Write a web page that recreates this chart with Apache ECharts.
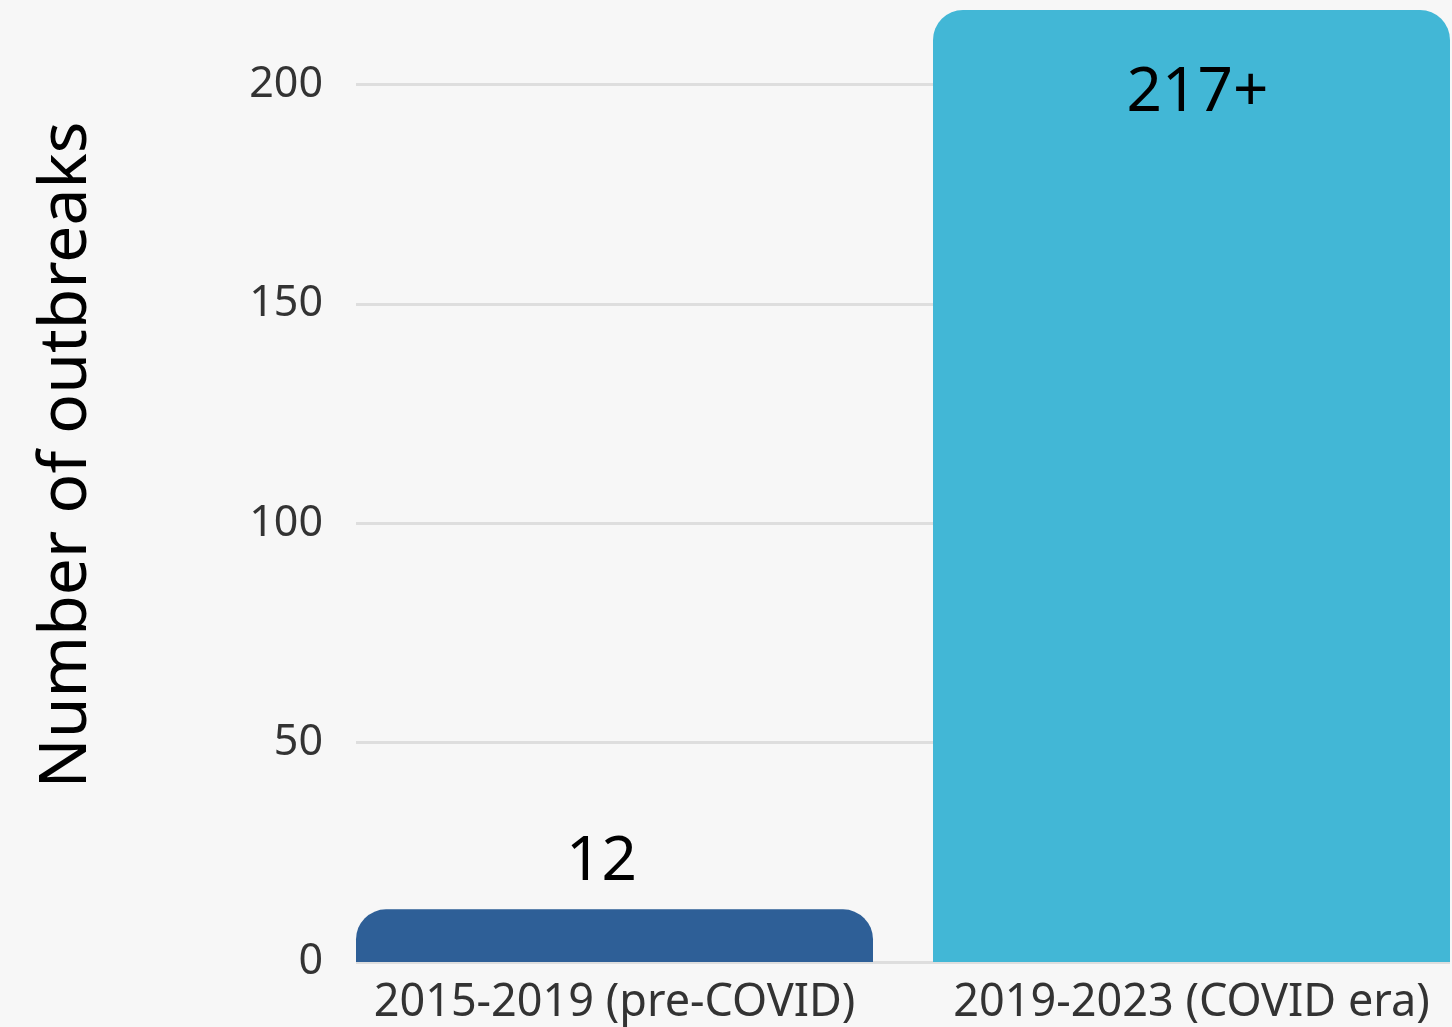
<!DOCTYPE html>
<html>
<head>
<meta charset="utf-8">
<script src="https://cdn.jsdelivr.net/npm/echarts@6/dist/echarts.min.js"></script>
<style>
  html, body { margin: 0; padding: 0; background: #f7f7f7; }
  #chart { width: 1452px; height: 1027px; }
</style>
</head>
<body>
<div id="chart"></div>
<script>
const categories = ["2015-2019 (pre-COVID)", "2019-2023 (COVID era)"];
const outbreaks = [12, 217];
const valueLabels = ["12", "217+"];
const barColors = ["#2e5f97", "#42b7d6"];
const yTicks = [0, 50, 100, 150, 200];

const font = "Noto Sans";
const chart = echarts.init(document.getElementById("chart"));

const option = {
  backgroundColor: "#f7f7f7",
  textStyle: { fontFamily: font },
  grid: [
    // bars (category band runs past the right edge)
    { left: 326, width: 1154, top: 10, bottom: 65, outerBoundsMode: "none" },
    // y axis + gridlines
    { left: 356, right: 2, top: 10, bottom: 65, outerBoundsMode: "none" },
  ],
  xAxis: [
    {
      type: "category",
      gridIndex: 0,
      data: categories,
      axisLine: { show: false },
      axisTick: { show: false },
      axisLabel: { interval: 0, fontSize: 45, color: "#333", margin: 19, fontFamily: font },
    },
    { type: "category", gridIndex: 1, data: categories, show: false },
  ],
  yAxis: [
    { type: "value", gridIndex: 0, min: 0, max: 217, show: false },
    {
      type: "value",
      gridIndex: 1,
      min: 0,
      max: 217,
      interval: 50,
      name: "Number of outbreaks",
      nameLocation: "middle",
      nameGap: 256,
      nameTextStyle: { fontSize: 66, color: "#000", fontFamily: font, padding: [0, 0, 0, 62] },
      axisLine: { show: false },
      axisTick: { show: false },
      axisLabel: {
        fontSize: 43,
        color: "#333",
        margin: 33,
        showMaxLabel: false,
        fontFamily: font,
        formatter: (v) => (yTicks.includes(v) ? String(v) : ""),
      },
      splitLine: { show: true, showMaxLine: false, lineStyle: { color: "#dedede", width: 3 } },
    },
  ],
  series: [
    {
      type: "bar",
      xAxisIndex: 0,
      yAxisIndex: 0,
      barWidth: 517,
      clip: false,
      data: outbreaks.map((v, i) => ({
        value: v,
        itemStyle: { color: barColors[i], borderRadius: [30, 30, 0, 0] },
        label: {
          show: true,
          position: i === 0 ? "top" : "insideTop",
          distance: i === 0 ? 16 : 52,
          offset: i === 0 ? [-13, 0] : [6, 0],
          formatter: valueLabels[i],
          fontSize: 62,
          color: "#000",
          fontFamily: font,
        },
      })),
    },
  ],
};

chart.setOption(option);
</script>
</body>
</html>
